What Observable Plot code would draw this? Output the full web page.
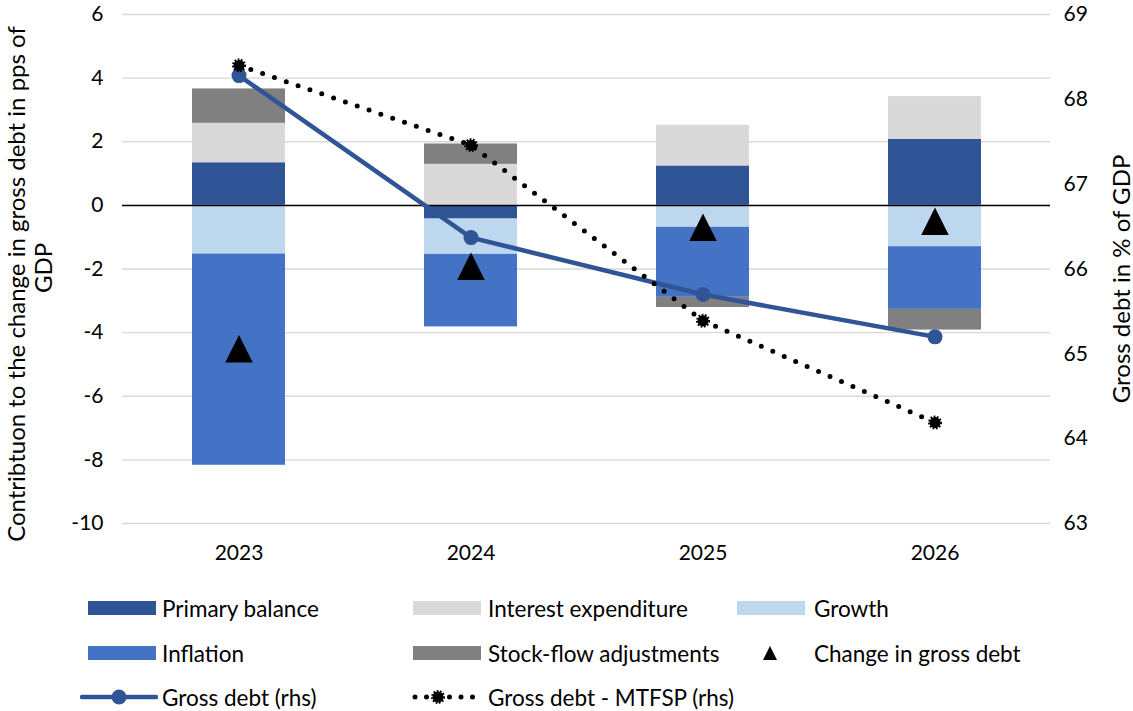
<!DOCTYPE html>
<html>
<head>
<meta charset="utf-8">
<script src="https://cdn.jsdelivr.net/npm/d3@7"></script>
<script src="https://cdn.jsdelivr.net/npm/@observablehq/plot@0.6"></script>
<style>
  body { margin: 0; background: #fff; font-family: Lato, "Open Sans", sans-serif; }
  #chart { position: relative; width: 1133px; height: 711px; overflow: hidden; }
  #chart svg { position: absolute; left: 0; top: 0; }
  .ttl { position: absolute; font-size: 24px; color: #000; white-space: nowrap; transform: translate(-50%, -50%) rotate(-90deg); }
  .leg { position: absolute; font-size: 22.5px; color: #000; white-space: nowrap; transform: translateY(-50%); }
  .sw { position: absolute; transform: translateY(-50%); }
</style>
</head>
<body>
<div id="chart"></div>
<script>
// Years on the horizontal axis
const years = ["2023", "2024", "2025", "2026"];

// Contributions to the change in gross debt (pps of GDP)
const primaryBalance      = [1.34, -0.43, 1.24, 2.08];
const interestExpenditure = [1.24, 1.29, 1.28, 1.34];
const growth              = [-1.53, -1.11, -0.69, -1.30];
const inflation           = [-6.64, -2.28, -2.20, -1.97];
const stockFlow           = [1.08, 0.64, -0.32, -0.65];
const changeInGrossDebt   = [-4.51, -1.91, -0.69, -0.50];

// Gross debt levels (% of GDP, right-hand axis)
const grossDebt      = [68.28, 66.37, 65.70, 65.20];
const grossDebtMTFSP = [68.40, 67.46, 65.39, 64.19];

// Axis ticks
const leftTicks  = [-10, -8, -6, -4, -2, 0, 2, 4, 6];
const rightTicks = [63, 64, 65, 66, 67, 68, 69];

const seriesNames  = ["Primary balance", "Interest expenditure", "Growth", "Inflation", "Stock-flow adjustments"];
const seriesValues = [primaryBalance, interestExpenditure, growth, inflation, stockFlow];
const seriesColors = ["#2F5597", "#D9D9D9", "#BDD7EE", "#4472C4", "#808080"];

const DARK = "#2F5597";

// Right axis (63..69) is laid onto the left scale (-10..6)
const toLeft   = v => -10 + (v - 63) * 16 / 6;
const fromLeft = y => 63 + (y + 10) * 6 / 16;

const barRows = seriesNames.flatMap((s, i) =>
  years.map((yr, j) => ({year: yr, series: s, value: seriesValues[i][j]})));
const changeRows = years.map((yr, j) => ({year: yr, value: changeInGrossDebt[j]}));
const debtRows   = years.map((yr, j) => ({year: yr, value: grossDebt[j]}));
const mtfspRows  = years.map((yr, j) => ({year: yr, value: grossDebtMTFSP[j]}));

// Upward triangle centred on its bounding box
const triangleUp = {
  draw(ctx, size) {
    const k = Math.sqrt(size / Math.PI) * 1.25;
    ctx.moveTo(0, -k);
    ctx.lineTo(k, k);
    ctx.lineTo(-k, k);
    ctx.closePath();
  }
};

const chart = Plot.plot({
  width: 1133,
  height: 575,
  marginTop: 14,
  marginBottom: 52,
  marginLeft: 122,
  marginRight: 83,
  style: {fontFamily: "Lato, 'Open Sans', sans-serif", fontSize: "21px", color: "#000", background: "#fff"},
  x: {domain: years, paddingInner: 0.6, paddingOuter: 0.3, label: null},
  y: {domain: [-10, 6], label: null},
  color: {domain: seriesNames, range: seriesColors},
  marks: [
    Plot.gridY(leftTicks, {stroke: "#D9D9D9", strokeOpacity: 1, strokeWidth: 1.3}),
    Plot.barY(barRows, {x: "year", y: "value", fill: "series"}),
    Plot.ruleY([0], {stroke: "#000", strokeWidth: 1.5}),
    Plot.dot(changeRows, {x: "year", y: "value", symbol: triangleUp, r: 11, fill: "#000"}),
    Plot.line(debtRows, {x: "year", y: d => toLeft(d.value), stroke: DARK, strokeWidth: 4.5}),
    Plot.dot(debtRows, {x: "year", y: d => toLeft(d.value), r: 7.5, fill: DARK}),
    Plot.line(mtfspRows, {x: "year", y: d => toLeft(d.value), stroke: "#000", strokeWidth: 5,
      strokeLinecap: "round", strokeDasharray: "0 12.5"}),
    Plot.dot(mtfspRows, {x: "year", y: d => toLeft(d.value), r: 5.5, fill: "#000",
      stroke: "#000", strokeWidth: 3, strokeDasharray: "1.6 1.4"}),
    Plot.axisY(leftTicks, {anchor: "left", tickSize: 0, tickPadding: 19, label: null,
      tickFormat: d => String(d)}),
    Plot.axisY(rightTicks.map(toLeft), {anchor: "right", tickSize: 0, tickPadding: 13, label: null,
      textAnchor: "start", tickFormat: d => String(Math.round(fromLeft(d)))}),
    Plot.axisX({anchor: "bottom", tickSize: 0, tickPadding: 22, label: null})
  ]
});

const root = document.getElementById("chart");
root.appendChild(chart);

function addDiv(cls, text, left, top) {
  const el = document.createElement("div");
  el.className = cls;
  el.textContent = text;
  el.style.left = left + "px";
  el.style.top = top + "px";
  root.appendChild(el);
  return el;
}

// Axis titles
addDiv("ttl", "Contribtuon to the change in gross debt in pps of", 15, 284);
addDiv("ttl", "GDP", 42, 268);
addDiv("ttl", "Gross debt in % of GDP", 1120, 279);

// Legend swatches
function addSwatch(left, top, w, h, svgInner) {
  const ns = "http://www.w3.org/2000/svg";
  const s = document.createElementNS(ns, "svg");
  s.setAttribute("width", w);
  s.setAttribute("height", h);
  s.setAttribute("class", "sw");
  s.style.position = "absolute";
  s.style.left = left + "px";
  s.style.top = top + "px";
  s.innerHTML = svgInner;
  root.appendChild(s);
}
const rowY = [608, 653, 697];
const rect = c => `<rect x="0" y="0" width="68" height="14" fill="${c}"/>`;

addSwatch(88, rowY[0], 68, 14, rect(seriesColors[0]));
addDiv("leg", seriesNames[0], 162, rowY[0]);
addSwatch(413, rowY[0], 68, 14, rect(seriesColors[1]));
addDiv("leg", seriesNames[1], 488, rowY[0]);
addSwatch(737, rowY[0], 68, 14, rect(seriesColors[2]));
addDiv("leg", seriesNames[2], 814, rowY[0]);

addSwatch(88, rowY[1], 68, 14, rect(seriesColors[3]));
addDiv("leg", seriesNames[3], 162, rowY[1]);
addSwatch(413, rowY[1], 68, 14, rect(seriesColors[4]));
addDiv("leg", seriesNames[4], 488, rowY[1]);
addSwatch(762, rowY[1], 16, 16, `<path d="M8,1 L15,15 L1,15 Z" fill="#000"/>`);
addDiv("leg", "Change in gross debt", 814, rowY[1]);

addSwatch(80, rowY[2], 78, 18,
  `<line x1="2" y1="9" x2="76" y2="9" stroke="${DARK}" stroke-width="4.5" stroke-linecap="round"/>
   <circle cx="39" cy="9" r="7.5" fill="${DARK}"/>`);
addDiv("leg", "Gross debt (rhs)", 162, rowY[2]);
addSwatch(410, rowY[2], 74, 18,
  `<line x1="5" y1="9" x2="72" y2="9" stroke="#000" stroke-width="5" stroke-linecap="round" stroke-dasharray="0 11.5"/>
   <circle cx="28" cy="9" r="5.5" fill="#000" stroke="#000" stroke-width="3" stroke-dasharray="1.6 1.4"/>`);
addDiv("leg", "Gross debt - MTFSP (rhs)", 488, rowY[2]);
</script>
</body>
</html>
